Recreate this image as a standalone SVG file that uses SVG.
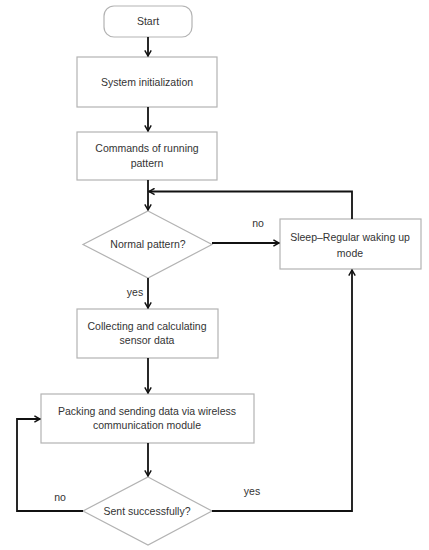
<svg xmlns="http://www.w3.org/2000/svg" width="429" height="550" viewBox="0 0 429 550">
<defs>
<style>
.box{fill:#fff;stroke:#b3b3b3;stroke-width:1.2}
.t{font-family:"Liberation Sans",Arial,sans-serif;font-size:10.5px;fill:#333;text-anchor:middle}
.c{fill:none;stroke:#111;stroke-width:1.8}
</style>
<marker id="a" viewBox="0 0 10 10" refX="9" refY="5" markerWidth="8" markerHeight="8" markerUnits="userSpaceOnUse" orient="auto">
<polyline points="2,1 9,5 2,9" fill="none" stroke="#111" stroke-width="1.8"/>
</marker>
</defs>
<rect width="429" height="550" fill="#fff"/>
<g id="start"><rect class="box" x="104" y="6" width="88" height="31" rx="10"/><text class="t" x="148" y="25">Start</text></g>
<g id="init"><rect class="box" x="77" y="57" width="140" height="50"/><text class="t" x="147" y="86">System initialization</text></g>
<g id="commands"><rect class="box" x="77" y="132" width="140" height="48"/><text class="t" x="147" y="152">Commands of running</text><text class="t" x="147" y="167">pattern</text></g>
<g id="normal"><polygon class="box" points="148,211 212,244.5 148,278 83,244.5"/><text class="t" x="148" y="248">Normal pattern?</text></g>
<g id="sleep"><rect class="box" x="280" y="219" width="141" height="50"/><text class="t" x="350" y="241">Sleep–Regular waking up</text><text class="t" x="350" y="257">mode</text></g>
<g id="collect"><rect class="box" x="77" y="309" width="141" height="49"/><text class="t" x="147" y="330">Collecting and calculating</text><text class="t" x="147" y="344">sensor data</text></g>
<g id="pack"><rect class="box" x="41" y="394" width="213" height="49"/><text class="t" x="147" y="415">Packing and sending data via wireless</text><text class="t" x="147" y="429">communication module</text></g>
<g id="sent"><polygon class="box" points="148,477 212,511 148,545 83,511"/><text class="t" x="147" y="515">Sent successfully?</text></g>
<g id="connectors">
<line class="c" x1="148" y1="37" x2="148" y2="56" marker-end="url(#a)"/>
<line class="c" x1="148" y1="107" x2="148" y2="131" marker-end="url(#a)"/>
<line class="c" x1="148" y1="180" x2="148" y2="210" marker-end="url(#a)"/>
<polyline class="c" points="352,219 352,191.5 149,191.5" marker-end="url(#a)"/>
<line class="c" x1="212" y1="243" x2="279" y2="243" marker-end="url(#a)"/>
<line class="c" x1="148" y1="278" x2="148" y2="308" marker-end="url(#a)"/>
<line class="c" x1="148" y1="358" x2="148" y2="393" marker-end="url(#a)"/>
<line class="c" x1="148" y1="443" x2="148" y2="476" marker-end="url(#a)"/>
<polyline class="c" points="83,511 17,511 17,419 40,419" marker-end="url(#a)"/>
<polyline class="c" points="212,511 352,511 352,270" marker-end="url(#a)"/>
<text class="t" x="258" y="227">no</text>
<text class="t" x="135" y="296">yes</text>
<text class="t" x="60" y="501">no</text>
<text class="t" x="252" y="495">yes</text>
</g>
</svg>
